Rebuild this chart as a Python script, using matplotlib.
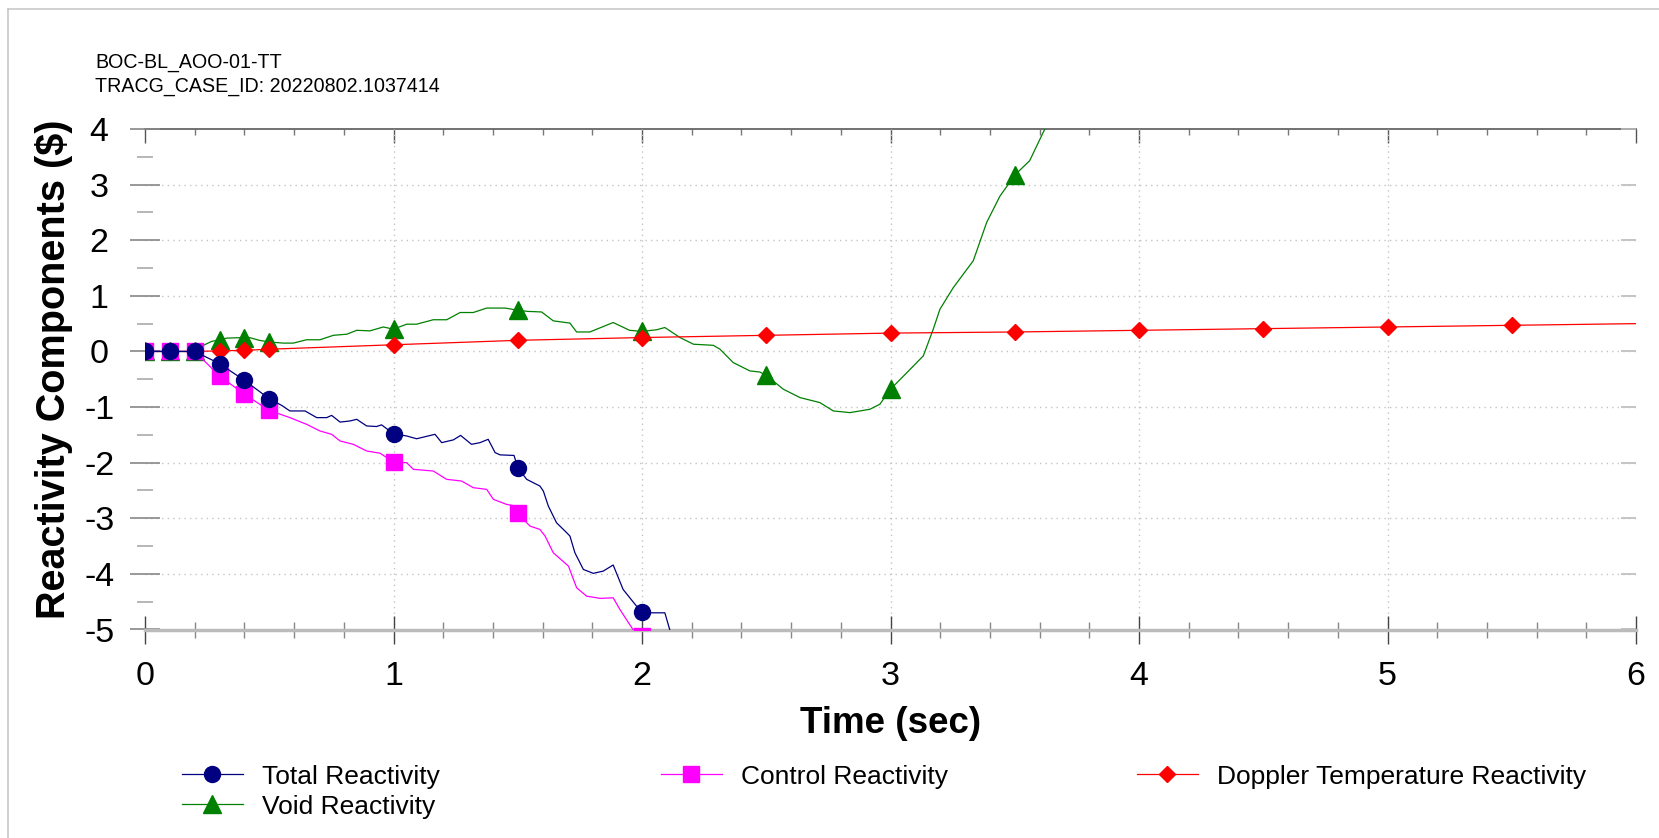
import matplotlib
matplotlib.use("Agg")
import matplotlib.pyplot as plt
from matplotlib.lines import Line2D
from matplotlib.ticker import MultipleLocator

plt.rcParams['font.family'] = ['Liberation Sans', 'DejaVu Sans']
plt.rcParams['axes.unicode_minus'] = False

case_name = "BOC-BL_AOO-01-TT"
case_id = "TRACG_CASE_ID: 20220802.1037414"
x_title = "Time (sec)"
y_title = "Reactivity Components ($)"

# Total reactivity ($) vs time (s)
total_t = [0.0, 0.1, 0.2, 0.3, 0.4, 0.5, 0.55, 0.583, 0.644, 0.691, 0.731, 0.751, 0.785,
           0.825, 0.852, 0.892, 0.932, 0.952, 1.0, 1.053, 1.093, 1.167, 1.194, 1.241, 1.27,
           1.314, 1.348, 1.381, 1.409, 1.429, 1.485, 1.5, 1.536, 1.589, 1.603, 1.623, 1.656,
           1.697, 1.71, 1.73, 1.764, 1.804, 1.844, 1.884, 1.924, 1.978, 2.0, 2.039, 2.092,
           2.112, 2.15]
total_v = [0.0, 0.0, 0.0, -0.22, -0.52, -0.85, -0.97, -1.07, -1.07, -1.19, -1.19, -1.15, -1.27,
           -1.25, -1.22, -1.34, -1.35, -1.32, -1.48, -1.52, -1.57, -1.49, -1.64, -1.59, -1.51,
           -1.67, -1.64, -1.58, -1.82, -1.86, -1.87, -2.09, -2.30, -2.42, -2.51, -2.78, -3.08,
           -3.26, -3.32, -3.62, -3.92, -3.99, -3.95, -3.84, -4.28, -4.58, -4.68, -4.70, -4.70,
           -5.01, -5.40]

# Control rod reactivity
control_t = [0.0, 0.1, 0.2, 0.3, 0.4, 0.5, 0.583, 0.65, 0.704, 0.751, 0.785, 0.838, 0.892,
             0.946, 1.0, 1.053, 1.08, 1.16, 1.214, 1.274, 1.321, 1.375, 1.402, 1.455, 1.48,
             1.5, 1.549, 1.589, 1.61, 1.643, 1.704, 1.737, 1.777, 1.831, 1.884, 1.911, 1.965,
             2.0, 2.05]
control_v = [0.0, 0.0, 0.0, -0.44, -0.77, -1.06, -1.19, -1.31, -1.43, -1.49, -1.61, -1.67, -1.79,
             -1.83, -1.99, -2.00, -2.12, -2.15, -2.30, -2.33, -2.45, -2.48, -2.66, -2.75, -2.77,
             -2.91, -3.14, -3.20, -3.32, -3.62, -3.86, -4.25, -4.40, -4.44, -4.43, -4.64, -5.01,
             -5.12, -5.35]

# Doppler temperature reactivity
doppler_t = [0.0, 0.1, 0.2, 0.3, 0.4, 0.5, 1.0, 1.5, 2.0, 2.5, 3.0, 3.5, 4.0, 4.5, 5.0, 5.5, 6.0]
doppler_v = [0.0, 0.0, 0.0, 0.01, 0.02, 0.04, 0.12, 0.20, 0.25, 0.29, 0.33, 0.35, 0.38, 0.41,
             0.44, 0.47, 0.50]

# Void reactivity
void_t = [0.0, 0.1, 0.2, 0.235, 0.268, 0.3, 0.33, 0.4, 0.42, 0.46, 0.5, 0.557, 0.597, 0.65,
          0.704, 0.758, 0.812, 0.852, 0.905, 0.959, 1.0, 1.053, 1.093, 1.16, 1.214, 1.268,
          1.321, 1.375, 1.45, 1.5, 1.54, 1.596, 1.643, 1.71, 1.737, 1.79, 1.884, 1.95, 2.0,
          2.059, 2.092, 2.153, 2.207, 2.287, 2.314, 2.367, 2.434, 2.474, 2.5, 2.569, 2.636,
          2.716, 2.77, 2.837, 2.917, 2.957, 3.0, 3.132, 3.172, 3.199, 3.253, 3.333, 3.387,
          3.44, 3.5, 3.56, 3.62, 3.7]
void_v = [0.0, 0.0, 0.0, 0.11, 0.18, 0.21, 0.24, 0.25, 0.25, 0.20, 0.17, 0.15, 0.15, 0.21,
          0.21, 0.29, 0.31, 0.38, 0.37, 0.44, 0.40, 0.49, 0.49, 0.57, 0.57, 0.70,
          0.70, 0.78, 0.78, 0.74, 0.72, 0.71, 0.55, 0.51, 0.35, 0.35, 0.52, 0.38, 0.36,
          0.39, 0.43, 0.25, 0.13, 0.11, 0.04, -0.20, -0.35, -0.37, -0.43, -0.68, -0.83,
          -0.92, -1.07, -1.10, -1.04, -0.95, -0.68, -0.08, 0.40, 0.76, 1.15, 1.63, 2.32,
          2.79, 3.17, 3.43, 3.99, 4.60]

# Times at which symbols are drawn on each curve
rod_marks = [0.0, 0.1, 0.2, 0.3, 0.4, 0.5, 1.0, 1.5, 2.0]
void_marks = [0.0, 0.1, 0.2, 0.3, 0.4, 0.5, 1.0, 1.5, 2.0, 2.5, 3.0, 3.5]
doppler_marks = [0.0, 0.1, 0.2, 0.3, 0.4, 0.5, 1.0, 1.5, 2.0, 2.5, 3.0, 3.5, 4.0, 4.5,
                 5.0, 5.5]


def mark_index(times, marks):
    return [i for i, t in enumerate(times) if any(abs(t - m) < 1e-9 for m in marks)]


W, H = 1659, 838
fig = plt.figure(figsize=(W / 100, H / 100), dpi=100)
ax = fig.add_axes([145 / W, 1 - 629.5 / H, (1636 - 145) / W, (629.5 - 129) / H])

# interior grid
for gx in range(1, 6):
    ax.axvline(gx, color='#C4C4C4', lw=1.0, ls=(0, (1, 3)), zorder=1)
for gy in range(-4, 4):
    ax.axhline(gy, color='#C4C4C4', lw=1.0, ls=(0, (1, 3)), zorder=1)

lw = 0.9
l_void, = ax.plot(void_t, void_v, color='#008000', lw=lw, marker='^', ms=12.5,
                  markevery=mark_index(void_t, void_marks), zorder=3)
l_dop, = ax.plot(doppler_t, doppler_v, color='#FF0000', lw=lw, marker='D', ms=8,
                 markevery=mark_index(doppler_t, doppler_marks), zorder=4)
l_ctrl, = ax.plot(control_t, control_v, color='#FF00FF', lw=lw, marker='s', ms=11.5,
                  markevery=mark_index(control_t, rod_marks), zorder=5)
l_tot, = ax.plot(total_t, total_v, color='#000080', lw=lw, marker='o', ms=11.5,
                 markevery=mark_index(total_t, rod_marks), zorder=6)

ax.set_xlim(0, 6)
ax.set_ylim(-5, 4)
ax.set_xticks(range(0, 7))
ax.set_yticks(range(-5, 5))
ax.xaxis.set_minor_locator(MultipleLocator(0.2))
ax.yaxis.set_minor_locator(MultipleLocator(0.5))

for side in ('left', 'right', 'top'):
    ax.spines[side].set_visible(False)
ax.spines['bottom'].set_color('#BBBBBB')
ax.spines['bottom'].set_linewidth(2.5)

ax.tick_params(axis='x', which='major', direction='inout', length=20, width=1.0,
               color='#444444', labelsize=24.5, pad=13, top=False)
ax.tick_params(axis='x', which='minor', direction='inout', length=12, width=1.0,
               color='#888888', top=False)
ax.tick_params(axis='y', which='major', direction='inout', length=22, width=1.2,
               color='#888888', labelsize=24.5, pad=22, right=False)
ax.tick_params(axis='y', which='minor', direction='inout', length=12, width=1.2,
               color='#AAAAAA', right=False)
plt.setp(ax.get_yticklabels(), ha='center')

# top frame with inward ticks
top = ax.secondary_xaxis('top')
top.set_xticks(range(0, 7))
top.xaxis.set_minor_locator(MultipleLocator(0.2))
top.tick_params(which='major', direction='in', length=10, width=1.0, color='#555555',
                labeltop=False)
top.tick_params(which='minor', direction='in', length=4, width=1.0, color='#777777')
top.spines['top'].set_color('#666666')
top.spines['top'].set_linewidth(1.3)

# right side inward ticks, no frame line
right = ax.secondary_yaxis('right')
right.set_yticks(range(-5, 5))
right.tick_params(which='major', direction='in', length=11, width=1.2, color='#BBBBBB',
                  labelright=False)
right.spines['right'].set_visible(False)

ax.set_xlabel(x_title, fontsize=26.5, fontweight='bold')
ax.xaxis.set_label_coords(0.5, (629.5 - 733) / 500.5)
ax.xaxis.label.set_va('baseline')
ax.set_ylabel(y_title, fontsize=28.5, fontweight='bold')
ax.yaxis.set_label_coords((54 - 145) / 1491, 0.52)
ax.yaxis.label.set_va('center')

# case identification
fig.text(95 / W, 1 - 68 / H, case_name, fontsize=14.1, va='baseline')
fig.text(95 / W, 1 - 91.7 / H, case_id, fontsize=14.1, va='baseline')

# legend entries placed on a fixed grid
entries = [
    (l_tot, "Total Reactivity", 182, 776.5),
    (l_ctrl, "Control Reactivity", 661, 776.5),
    (l_dop, "Doppler Temperature Reactivity", 1137, 776.5),
    (l_void, "Void Reactivity", 182, 806.5),
]
for handle, label, lx, ly in entries:
    fig.legend(handles=[handle], labels=[label], loc='center left',
               bbox_to_anchor=(lx / W, 1 - ly / H), frameon=False, fontsize=19,
               handlelength=2.31, handletextpad=0.72, borderpad=0, borderaxespad=0)

# light outer frame
fig.add_artist(Line2D([8 / W, 1], [1 - 9 / H, 1 - 9 / H], transform=fig.transFigure,
                      color='#C8C8C8', lw=1.2))
fig.add_artist(Line2D([8 / W, 8 / W], [1 - 9 / H, 0], transform=fig.transFigure,
                      color='#C8C8C8', lw=1.2))

fig.savefig("out.png", dpi=100)
